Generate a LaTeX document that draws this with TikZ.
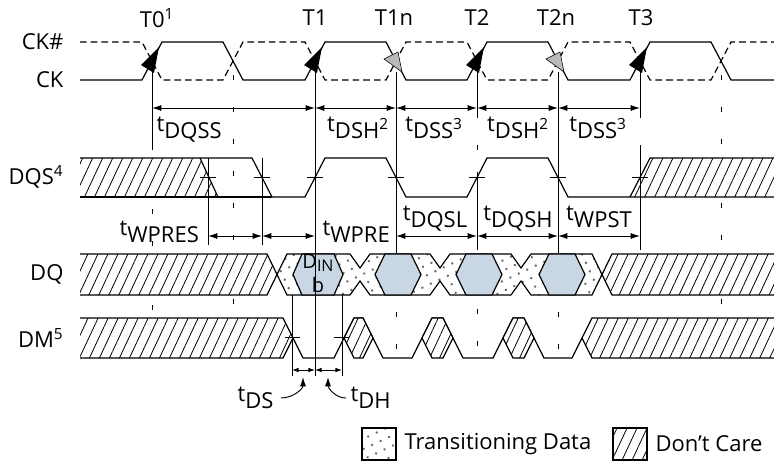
\documentclass[tikz,border=0pt]{standalone}
\usepackage{fontspec}
\setmainfont{Open Sans}
\usepackage{tikz}
\usetikzlibrary{arrows.meta,patterns.meta,backgrounds,positioning}
\definecolor{eyeblue}{RGB}{201,214,227}
\newcommand{\tparm}[1]{t\raisebox{-5.5pt}{#1}}

\begin{document}
\begin{tikzpicture}[x=0.75pt,y=-0.75pt,line width=0.9pt,
  font=\fontsize{16.5}{19}\selectfont,
  lbl/.style={inner sep=0pt},
  ckbar/.style={dash pattern=on 5pt off 3pt},
  guide/.style={line width=0.7pt,dash pattern=on 4pt off 20pt},
  vline/.style={line width=0.7pt},
  care/.style={preaction={fill=white},pattern={Lines[angle=65,distance=6.8pt,line width=0.6pt]}},
  trans/.style={preaction={fill=white},pattern={Dots[distance=7pt,radius=1pt,angle=25]},pattern color=black!60},
  eye/.style={fill=eyeblue},
  meas/.style={line width=0.7pt,arrows={Latex[length=7pt,width=4.5pt]-Latex[length=7pt,width=4.5pt]}},
  smeas/.style={line width=0.7pt,arrows={Latex[length=5pt,width=3.5pt]-Latex[length=5pt,width=3.5pt]}},
  ptr/.style={line width=0.7pt,arrows={-Latex[length=7pt,width=4.5pt]}},
  xmark/.style={line width=0.7pt}]
\useasboundingbox (0,0) rectangle (774,464);

\coordinate (t0) at (152,0);
\coordinate (ta) at (233,0);
\coordinate (pres) at (208,0);
\coordinate (pre) at (262,0);
\coordinate (t1) at (315,0);
\coordinate (t1n) at (396,0);
\coordinate (t2) at (477,0);
\coordinate (t2n) at (558,0);
\coordinate (t3) at (640,0);
\coordinate (tb) at (721,0);
\coordinate (ds) at (292,0);
\coordinate (dh) at (342,0);
\coordinate (r1) at (0,108);
\coordinate (r2) at (0,236);
\coordinate (r3) at (0,370);

\begin{scope}[on background layer]
\draw[guide] (t0|-0,145) -- (t0|-0,310);
\draw[guide] (ta|-0,75) -- (ta|-0,305);
\draw[guide] (t1n|-0,248) -- (t1n|-0,352);
\draw[guide] (t2|-0,113) -- (t2|-0,172);
\draw[guide] (t2|-0,245) -- (t2|-0,352);
\draw[guide] (t2n|-0,248) -- (t2n|-0,358);
\draw[guide] (t3|-0,113) -- (t3|-0,150);
\draw[guide] (t3|-0,245) -- (t3|-0,308);
\draw[guide] (tb|-0,75) -- (tb|-0,305);
\end{scope}

\node[lbl] (T0) at (157,18) {T0\textsuperscript{1}};
\node[lbl] (T1) at (315,18) {T1};
\node[lbl] (T1n) at (394,18) {T1n};
\node[lbl] (T2) at (477,18) {T2};
\node[lbl] (T2n) at (556,18) {T2n};
\node[lbl] (T3) at (641,18) {T3};

\node[lbl,anchor=east] (CKn) at (64,42) {CK\#};
\node[lbl,anchor=east] (CK) at (64,80) {CK};
\node[lbl,anchor=east] (DQS) at (64,177) {DQS\textsuperscript{4}};
\node[lbl,anchor=east] (DQ) at (64,274) {DQ};
\node[lbl,anchor=east] (DM) at (64,338) {DM\textsuperscript{5}};

\draw (80,80) -- (142,80) -- (162,42) -- (223,42) -- (243,80) -- (305,80) -- (325,42) -- (386,42) -- (406,80) -- (467,80) -- (487,42) -- (548,42) -- (568,80) -- (630,80) -- (650,42) -- (711,42) -- (731,80) -- (774,80);
\draw[ckbar] (80,42) -- (142,42) -- (162,80) -- (223,80) -- (243,42) -- (305,42) -- (325,80) -- (386,80) -- (406,42) -- (467,42) -- (487,80) -- (548,80) -- (568,42) -- (630,42) -- (650,80) -- (711,80) -- (731,42) -- (774,42);

\fill (159,47) -- (141,65) -- (154,73) -- cycle;
\fill (322,47) -- (304,65) -- (317,73) -- cycle;
\fill (484,47) -- (466,65) -- (479,73) -- cycle;
\fill (647,47) -- (629,65) -- (642,73) -- cycle;
\filldraw[fill=gray!55,line width=0.4pt] (384,59) -- (398,52) -- (402,72) -- cycle;
\filldraw[fill=gray!55,line width=0.4pt] (546,59) -- (560,52) -- (564,72) -- cycle;

\path[care] (80,158) -- (200,158) -- (218,197) -- (80,197) -- cycle;
\path[care] (630,197) -- (650,158) -- (774,158) -- (774,197) -- cycle;
\draw (80,158) -- (252,158) -- (272,197) -- (305,197) -- (325,158) -- (386,158) -- (406,197) -- (467,197) -- (487,158) -- (548,158) -- (568,197) -- (774,197);
\draw (80,197) -- (272,197);
\draw (200,158) -- (218,197);
\draw (630,197) -- (650,158) -- (774,158);

\path[care] (80,254) -- (267,254) -- (277,274.5) -- (267,295) -- (80,295) -- cycle;
\path[care] (602,274.5) -- (612,254) -- (774,254) -- (774,295) -- (612,295) -- cycle;
\draw (80,254) -- (267,254) -- (277,274.5) -- (267,295) -- (80,295);
\draw (774,254) -- (612,254) -- (602,274.5) -- (612,295) -- (774,295);
\draw[trans] (277,274.5) -- (287,254) -- (350,254) -- (360,268) -- (370,254) -- (430,254) -- (440,268) -- (450,254) -- (511,254) -- (521,268) -- (531,254) -- (592,254) -- (602,274.5) -- (592,295) -- (531,295) -- (521,281) -- (511,295) -- (450,295) -- (440,281) -- (430,295) -- (370,295) -- (360,281) -- (350,295) -- (287,295) -- cycle;
\draw[eye] (293,274.5) -- (302,254) -- (334,254) -- (343,274.5) -- (334,295) -- (302,295) -- cycle;
\draw[eye] (375,274.5) -- (385,254) -- (411,254) -- (421,274.5) -- (411,295) -- (385,295) -- cycle;
\draw[eye] (456,274.5) -- (466,254) -- (492,254) -- (502,274.5) -- (492,295) -- (466,295) -- cycle;
\draw[eye] (539,274.5) -- (549,254) -- (575,254) -- (585,274.5) -- (575,295) -- (549,295) -- cycle;
\node[lbl,font=\fontsize{15}{15}\selectfont] (Din) at (318,263) {D\raisebox{-2.5pt}{\fontsize{12}{12}\selectfont IN}};
\node[lbl,font=\fontsize{15}{15}\selectfont] (Dinb) at (318,285) {b};

\path[care] (80,318) -- (283,318) -- (293,338) -- (283,358) -- (80,358) -- cycle;
\path[care] (582,338) -- (592,318) -- (774,318) -- (774,358) -- (592,358) -- cycle;
\draw (80,318) -- (283,318) -- (303,358) -- (334,358) -- (354,318) -- (363,318) -- (383,358) -- (412,358) -- (432,318) -- (443,318) -- (463,358) -- (493,358) -- (513,318) -- (524,318) -- (544,358) -- (572,358) -- (592,318) -- (774,318);
\draw (80,358) -- (283,358) -- (293,338);
\draw (774,358) -- (592,358) -- (582,338);
\draw[care] (344,338) -- (354,318) -- (363,318) -- (373,338) -- (363,358) -- (354,358) -- cycle;
\draw[care] (422,338) -- (432,318) -- (443,318) -- (453,338) -- (443,358) -- (432,358) -- cycle;
\draw[care] (503,338) -- (513,318) -- (524,318) -- (534,338) -- (524,358) -- (513,358) -- cycle;

\draw[vline] (t0|-0,72) -- (t0|-0,145);
\draw[vline] (pres|-0,158) -- (pres|-0,245);
\draw[vline] (pre|-0,158) -- (pre|-0,245);
\draw[vline] (t1|-0,72) -- (t1|-0,376);
\draw[vline] (t1n|-0,72) -- (t1n|-0,248);
\draw[vline] (t2|-0,72) -- (t2|-0,113);
\draw[vline] (t2|-0,172) -- (t2|-0,245);
\draw[vline] (t2n|-0,72) -- (t2n|-0,248);
\draw[vline] (t3|-0,72) -- (t3|-0,113);
\draw[vline] (t3|-0,150) -- (t3|-0,245);
\draw[vline] (ds|-0,295) -- (ds|-0,376);
\draw[vline] (dh|-0,295) -- (dh|-0,376);

\draw[xmark] (200,177) -- (216,177);
\draw[xmark] (254,177) -- (270,177);
\draw[xmark] (307,177) -- (323,177);
\draw[xmark] (388,177) -- (404,177);
\draw[xmark] (469,177) -- (485,177);
\draw[xmark] (550,177) -- (566,177);
\draw[xmark] (632,177) -- (648,177);
\draw[xmark] (285,337) -- (300,337);
\draw[xmark] (334,337) -- (349,337);

\draw[meas] (t0|-r1) -- (t1|-r1);
\draw[meas] (t1|-r1) -- (t1n|-r1);
\draw[meas] (t1n|-r1) -- (t2|-r1);
\draw[meas] (t2|-r1) -- (t2n|-r1);
\draw[meas] (t2n|-r1) -- (t3|-r1);
\draw[meas] (pres|-r2) -- (pre|-r2);
\draw[meas] (pre|-r2) -- (t1|-r2);
\draw[meas] (t1n|-r2) -- (t2|-r2);
\draw[meas] (t2|-r2) -- (t2n|-r2);
\draw[meas] (t2n|-r2) -- (t3|-r2);
\draw[smeas] (ds|-r3) -- (t1|-r3);
\draw[smeas] (t1|-r3) -- (dh|-r3);

\node[lbl,anchor=base west] (tDQSS) at (156,131) {\tparm{DQSS}};
\node[lbl,anchor=base] (tDSHa) at (358,131) {\tparm{DSH\textsuperscript{2}}};
\node[lbl,anchor=base] (tDSSa) at (434,131) {\tparm{DSS\textsuperscript{3}}};
\node[lbl,anchor=base] (tDSHb) at (518,131) {\tparm{DSH\textsuperscript{2}}};
\node[lbl,anchor=base] (tDSSb) at (598,131) {\tparm{DSS\textsuperscript{3}}};
\node[lbl,anchor=base west] (tWPRES) at (119,235) {\tparm{WPRES}};
\node[lbl,anchor=base west] (tWPRE) at (322,235) {\tparm{WPRE}};
\node[lbl,anchor=base] (tDQSL) at (435,220) {\tparm{DQSL}};
\node[lbl,anchor=base] (tDQSH) at (518,220) {\tparm{DQSH}};
\node[lbl,anchor=base] (tWPST) at (599,220) {\tparm{WPST}};
\node[lbl,anchor=base east] (tDS) at (274,401) {\tparm{DS}};
\node[lbl,anchor=base west] (tDH) at (350,401) {\tparm{DH}};

\coordinate (pDS) at (281,398);
\coordinate (aDS) at (303,377);
\coordinate (pDH) at (346,398);
\coordinate (aDH) at (328,377);
\draw[ptr] (pDS) to[out=0,in=-90] (aDS);
\draw[ptr] (pDH) to[out=180,in=-90] (aDH);

\draw[trans] (362,428) rectangle (396,460);
\node[lbl,anchor=west] (ltrans) at (404,444) {Transitioning Data};
\draw[care] (613,428) rectangle (647,460);
\node[lbl,anchor=west] (lcare) at (655,444) {Don't Care};
\end{tikzpicture}
\end{document}
